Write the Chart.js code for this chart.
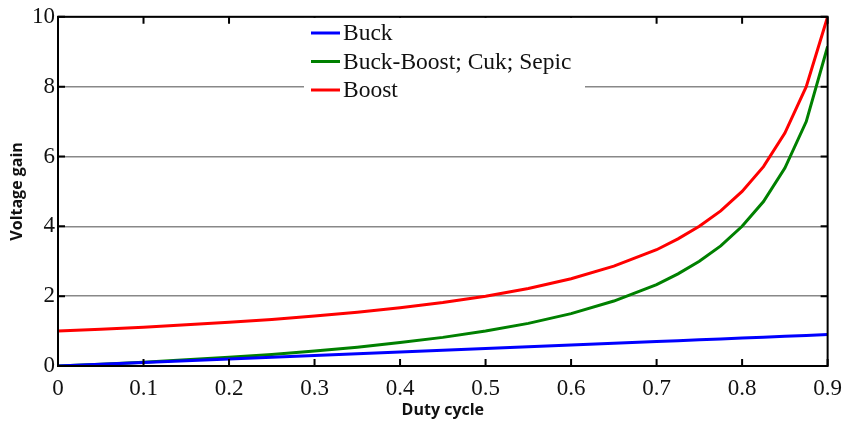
<!DOCTYPE html>
<html>
<head>
<meta charset="utf-8">
<script src="https://cdn.jsdelivr.net/npm/chart.js@4/dist/chart.umd.min.js"></script>
<style>
  html, body { margin: 0; padding: 0; background: #fff; }
  #wrap { width: 843px; height: 423px; }
</style>
</head>
<body>
<div id="wrap"><canvas id="myChart" width="843" height="423"></canvas></div>
<script>
// duty cycle values
const duty = [0, 0.05, 0.1, 0.15, 0.2, 0.25, 0.3, 0.35, 0.4, 0.45, 0.5, 0.55, 0.6, 0.65, 0.7, 0.725, 0.75, 0.775, 0.8, 0.825, 0.85, 0.875, 0.9];

const buck = [0, 0.05, 0.1, 0.15, 0.2, 0.25, 0.3, 0.35, 0.4, 0.45, 0.5, 0.55, 0.6, 0.65, 0.7, 0.725, 0.75, 0.775, 0.8, 0.825, 0.85, 0.875, 0.9];
const buckBoost = [0, 0.05, 0.11, 0.18, 0.25, 0.33, 0.43, 0.54, 0.67, 0.82, 1.0, 1.22, 1.5, 1.86, 2.33, 2.64, 3.0, 3.44, 4.0, 4.71, 5.67, 7.0, 9.15];
const boost = [1, 1.05, 1.11, 1.18, 1.25, 1.33, 1.43, 1.54, 1.67, 1.82, 2.0, 2.22, 2.5, 2.86, 3.33, 3.64, 4.0, 4.44, 5.0, 5.71, 6.67, 8.0, 10];

const xTicks = [0, 0.1, 0.2, 0.3, 0.4, 0.5, 0.6, 0.7, 0.8, 0.9];
const yTicks = [0, 2, 4, 6, 8, 10];

const labels = ['Buck', 'Buck-Boost; Cuk; Sepic', 'Boost'];
const colors = ['#0000ff', '#008000', '#ff0000'];

function pts(ys) {
    return duty.map((d, i) => ({ x: d, y: ys[i] }));
}

const serif = '"Liberation Serif", "Times New Roman", serif';

// frame, inward ticks and the legend box
const framePlugin = {
    id: 'frame',
    afterDatasetsDraw(chart) {
        const ctx = chart.ctx;
        const a = chart.chartArea;
        const xs = chart.scales.x, ys = chart.scales.y;
        ctx.save();
        ctx.strokeStyle = '#000';
        ctx.lineWidth = 2;
        ctx.beginPath();
        xTicks.forEach(t => {
            const px = xs.getPixelForValue(t);
            ctx.moveTo(px, a.bottom); ctx.lineTo(px, a.bottom - 7);
            ctx.moveTo(px, a.top); ctx.lineTo(px, a.top + 7);
        });
        yTicks.forEach(t => {
            const py = ys.getPixelForValue(t);
            ctx.moveTo(a.left, py); ctx.lineTo(a.left + 7, py);
            ctx.moveTo(a.right, py); ctx.lineTo(a.right - 7, py);
        });
        ctx.stroke();

        // legend
        const lx = 304, ly = a.top + 1, lw = 281, lh = 94;
        ctx.fillStyle = '#fff';
        ctx.fillRect(lx, ly, lw, lh);
        ctx.font = '23.5px ' + serif;
        ctx.textBaseline = 'middle';
        chart.data.datasets.forEach((ds, i) => {
            const y = 33 + i * 28.5;
            ctx.strokeStyle = ds.borderColor;
            ctx.lineWidth = 3;
            ctx.beginPath();
            ctx.moveTo(311, y); ctx.lineTo(340, y);
            ctx.stroke();
            ctx.fillStyle = '#111';
            ctx.fillText(ds.label, 343, y + 1);
        });

        ctx.strokeStyle = '#000';
        ctx.lineWidth = 2;
        ctx.strokeRect(a.left, a.top, a.right - a.left, a.bottom - a.top);
        ctx.restore();
    }
};

const config = {
    type: 'line',
    data: {
        datasets: [
            { label: labels[0], data: pts(buck), borderColor: colors[0], backgroundColor: colors[0] },
            { label: labels[1], data: pts(buckBoost), borderColor: colors[1], backgroundColor: colors[1] },
            { label: labels[2], data: pts(boost), borderColor: colors[2], backgroundColor: colors[2] }
        ]
    },
    options: {
        responsive: false,
        animation: false,
        layout: { padding: { top: 11, right: 15, left: 8, bottom: 0 } },
        elements: {
            point: { radius: 0 },
            line: { borderWidth: 3, tension: 0 }
        },
        plugins: {
            legend: { display: false },
            tooltip: { enabled: false }
        },
        scales: {
            x: {
                type: 'linear',
                min: 0,
                max: 0.9,
                afterFit(scale) { scale.height = 57; },
                afterBuildTicks(scale) { scale.ticks = xTicks.map(v => ({ value: v })); },
                ticks: {
                    font: { family: serif, size: 23 },
                    color: '#111',
                    padding: 1,
                    maxRotation: 0,
                    callback: v => String(Math.round(v * 10) / 10)
                },
                grid: { display: false },
                border: { display: false },
                title: {
                    display: true,
                    text: 'Duty cycle',
                    font: { family: '"Open Sans", sans-serif', size: 16, weight: 'bold' },
                    color: '#111',
                    padding: { top: 0, bottom: 3 }
                }
            },
            y: {
                type: 'linear',
                min: 0,
                max: 10,
                afterFit(scale) { scale.width = 50; },
                afterBuildTicks(scale) { scale.ticks = yTicks.map(v => ({ value: v })); },
                ticks: {
                    font: { family: serif, size: 23 },
                    color: '#111',
                    padding: 3
                },
                grid: {
                    color: '#888',
                    lineWidth: 1.5,
                    drawTicks: false
                },
                border: { display: false },
                title: {
                    display: true,
                    text: 'Voltage gain',
                    font: { family: '"Open Sans", sans-serif', size: 16, weight: 'bold' },
                    color: '#111',
                    padding: { top: 0, bottom: 0 }
                }
            }
        }
    },
    plugins: [framePlugin]
};

const myChart = new Chart(document.getElementById('myChart'), config);
</script>
</body>
</html>
